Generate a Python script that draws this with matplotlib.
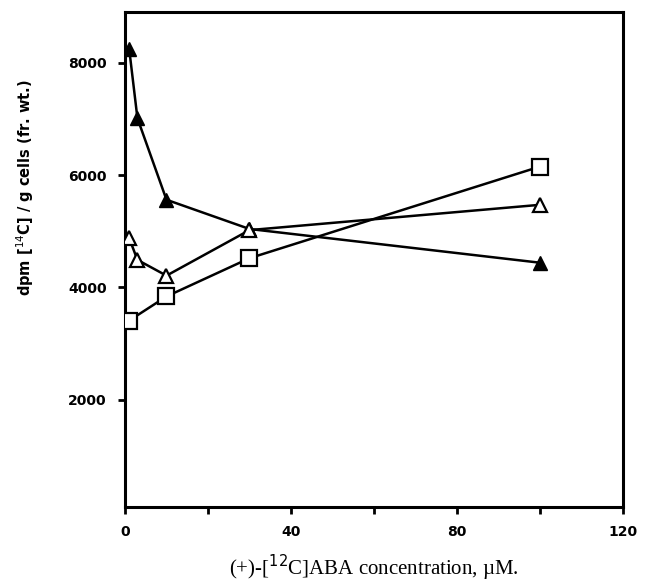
import matplotlib
matplotlib.use("Agg")
import matplotlib.pyplot as plt

# ABA concentration (uM)
conc = [1, 3, 10, 30, 100]
conc_sq = [1, 10, 30, 100]

# dpm [14C] / g cells
filled_tri = [8250, 7010, 5560, 5040, 4440]
open_tri = [4880, 4490, 4210, 5020, 5470]
squares = [3410, 3840, 4520, 6150]

fig = plt.figure(figsize=(6.53, 5.88), dpi=100)
ax = fig.add_axes([0.1914, 0.1383, 0.7626, 0.8413])

ax.plot(conc, filled_tri, color="black", lw=1.8, marker="^", ms=10,
        mfc="black", mec="black", zorder=3)
ax.plot(conc, open_tri, color="black", lw=1.8, marker="^", ms=10,
        mfc="white", mec="black", mew=1.6, zorder=3)
ax.plot(conc_sq, squares, color="black", lw=1.8, marker="s", ms=11,
        mfc="white", mec="black", mew=1.6, zorder=3)

ax.set_xlim(0, 120)
ax.set_ylim(100, 8900)
ax.set_xticks([0, 20, 40, 60, 80, 100, 120])
ax.set_xticklabels(["0", "", "40", "", "80", "", "120"])
ax.set_yticks([2000, 4000, 6000, 8000])

for s in ax.spines.values():
    s.set_linewidth(2.2)
ax.tick_params(direction="out", length=5, width=2, pad=8)
for lab in ax.get_xticklabels() + ax.get_yticklabels():
    lab.set_fontweight("bold")
    lab.set_fontsize(10)
    lab.set_family("DejaVu Sans")

ax.set_xlabel("(+)-[$^{12}$C]ABA concentration, \u00b5M.", family="Liberation Serif",
              fontsize=15, labelpad=10)
ax.set_ylabel("dpm [$^{14}$C] / g cells (fr. wt.)", family="DejaVu Sans",
              fontweight="bold", fontsize=10.5)
ax.yaxis.set_label_coords(-0.178, 0.646)

fig.savefig("out.png", dpi=100)
